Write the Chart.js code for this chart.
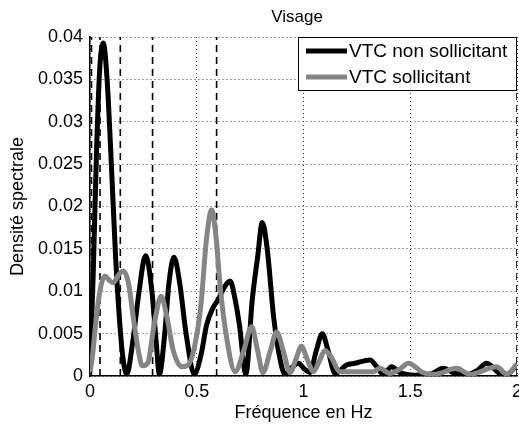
<!DOCTYPE html>
<html lang="fr">
    <head>
        <title>Visage</title>
        <meta charset="UTF-8">
        <script src="https://cdn.jsdelivr.net/npm/chart.js@4.4.0/dist/chart.umd.min.js"></script>
        <style>
            body { margin: 0; background: #fff; }
            #wrap { width: 519px; height: 425px; }
        </style>
    </head>
    <body>
        <div id="wrap">
            <canvas id="myChart" width="519" height="425"></canvas>
        </div>

    <script>
        // black curve : VTC non sollicitant
        const blackFreq = [0, 0.015, 0.03, 0.045, 0.062, 0.08, 0.1, 0.12, 0.14, 0.155,
            0.172, 0.2, 0.23, 0.26, 0.29, 0.31, 0.325, 0.35, 0.37, 0.393,
            0.42, 0.45, 0.489, 0.52, 0.546, 0.575, 0.6, 0.63, 0.656, 0.68,
            0.7, 0.73, 0.76, 0.785, 0.807, 0.83, 0.86, 0.89, 0.913, 0.945,
            0.976, 1.005, 1.03, 1.06, 1.088, 1.115, 1.148, 1.202, 1.241, 1.311,
            1.343, 1.372, 1.413, 1.452, 1.522, 1.593, 1.655, 1.71, 1.77, 1.811,
            1.858, 1.92, 1.953, 2.0];
        const blackDens = [0.001, 0.012, 0.026, 0.036, 0.0393, 0.035, 0.025, 0.014, 0.006, 0.002,
            0.0002, 0.004, 0.010, 0.0142, 0.010, 0.004, 0.0002, 0.005, 0.011, 0.014,
            0.011, 0.005, 0.0002, 0.0025, 0.006, 0.008, 0.009, 0.0105, 0.0112, 0.009,
            0.006, 0.0002, 0.009, 0.014, 0.0181, 0.015, 0.007, 0.002, 0.0002, 0.001,
            0.0015, 0.0008, 0.0004, 0.003, 0.005, 0.003, 0.0003, 0.0013, 0.0015, 0.0019,
            0.0011, 0.0002, 0.0011, 0.0004, 0.0001, 0.0002, 0.0009, 0.0003, 0.0002, 0.0006,
            0.0015, 0.0003, 0.0002, 0.0013];

        // gray curve : VTC sollicitant
        const grayFreq = [0, 0.01, 0.03, 0.05, 0.07, 0.09, 0.11, 0.13, 0.155, 0.18,
            0.205, 0.23, 0.245, 0.27, 0.3, 0.333, 0.36, 0.39, 0.43, 0.46,
            0.49, 0.52, 0.545, 0.57, 0.59, 0.61, 0.64, 0.68, 0.72, 0.757,
            0.785, 0.81, 0.845, 0.874, 0.905, 0.937, 0.965, 0.99, 1.02, 1.046,
            1.075, 1.1, 1.13, 1.171, 1.265, 1.326, 1.358, 1.405, 1.45, 1.491,
            1.56, 1.616, 1.717, 1.78, 1.905, 1.952, 2.0];
        const grayDens = [0.0005, 0.002, 0.007, 0.0105, 0.0118, 0.0113, 0.011, 0.0118, 0.0124, 0.011,
            0.0065, 0.0025, 0.0012, 0.0015, 0.006, 0.0094, 0.007, 0.003, 0.0011, 0.0013,
            0.0035, 0.0085, 0.016, 0.0196, 0.0165, 0.0105, 0.0045, 0.0005, 0.003, 0.0058,
            0.003, 0.0004, 0.003, 0.0052, 0.003, 0.0004, 0.002, 0.0035, 0.0018, 0.0005,
            0.0018, 0.003, 0.0022, 0.0005, 0.0005, 0.0005, 0.0009, 0.0003, 0.0008, 0.0015,
            0.0004, 0.0002, 0.0009, 0.0002, 0.0011, 0.0002, 0.0014];

        // dashed vertical markers (Hz)
        const markerFreqs = [0.007, 0.047, 0.142, 0.293, 0.593, 2.0];

        const seriesLabels = ['VTC non sollicitant', 'VTC sollicitant'];
        const xTicks = [0, 0.5, 1, 1.5, 2];
        const yRange = [0, 0.04];

        const FONT = "'Liberation Sans', Arial, sans-serif";
        const GRAY = '#858585';

        function toPoints(xs, ys){
            return xs.map((x, i) => ({x: x, y: ys[i]}));
        }

        const datasets = [];
        datasets.push({
            label: seriesLabels[1],
            data: toPoints(grayFreq, grayDens),
            borderColor: GRAY,
            borderWidth: 5,
            pointRadius: 0,
            cubicInterpolationMode: 'monotone',
            order: 0,
        });
        datasets.push({
            label: seriesLabels[0],
            data: toPoints(blackFreq, blackDens),
            borderColor: '#000',
            borderWidth: 5,
            pointRadius: 0,
            cubicInterpolationMode: 'monotone',
            order: 1,
        });
        markerFreqs.forEach(f => {
            datasets.push({
                label: '',
                data: [{x: f, y: yRange[0]}, {x: f, y: yRange[1]}],
                borderColor: '#000',
                borderWidth: 1.6,
                borderDash: [7, 5],
                pointRadius: 0,
                order: 2,
            });
        });

        // title + legend drawn like the matlab figure
        const matlabDeco = {
            id: 'matlabDeco',
            afterDraw(chart){
                const ctx = chart.ctx;
                const area = chart.chartArea;
                ctx.save();
                ctx.fillStyle = '#000';
                ctx.font = '17px ' + FONT;
                ctx.textAlign = 'center';
                ctx.textBaseline = 'middle';
                ctx.fillText('Visage', 297, 17);

                ctx.font = '19px ' + FONT;
                const w = 219, h = 54;
                const lx = area.right - w, ly = area.top;
                ctx.fillStyle = '#fff';
                ctx.fillRect(lx, ly, w, h);
                ctx.strokeStyle = '#000';
                ctx.lineWidth = 1;
                ctx.strokeRect(lx + 0.5, ly + 0.5, w - 1, h - 1);
                const items = [[seriesLabels[0], '#000'], [seriesLabels[1], GRAY]];
                items.forEach((it, i) => {
                    const yy = ly + 14 + i * 26;
                    ctx.strokeStyle = it[1];
                    ctx.lineWidth = 5;
                    ctx.beginPath();
                    ctx.moveTo(lx + 8, yy);
                    ctx.lineTo(lx + 49, yy);
                    ctx.stroke();
                    ctx.fillStyle = '#000';
                    ctx.textAlign = 'left';
                    ctx.fillText(it[0], lx + 51, yy + 1);
                });
                ctx.restore();
            }
        };

        const chart = new Chart(document.getElementById('myChart'), {
            type: 'line',
            data: { datasets: datasets },
            plugins: [matlabDeco],
            options: {
                responsive: false,
                animation: false,
                layout: { padding: { top: 37, right: 2, left: 0, bottom: 0 } },
                plugins: {
                    legend: { display: false },
                    title: { display: false },
                    tooltip: { enabled: false },
                },
                scales: {
                    x: {
                        type: 'linear',
                        min: xTicks[0],
                        max: xTicks[xTicks.length - 1],
                        afterFit: s => { s.height = 49; s.paddingRight = 0; s.paddingLeft = 0; },
                        afterBuildTicks: s => { s.ticks = xTicks.map(v => ({value: v})); },
                        grid: { color: '#444', lineWidth: 1, drawTicks: false },
                        border: { color: '#000', width: 1.5, dash: [1, 3] },
                        ticks: {
                            color: '#000',
                            padding: 5,
                            maxRotation: 0,
                            font: { family: FONT, size: 18 },
                            callback: v => String(v),
                        },
                        title: {
                            display: true,
                            text: 'Fréquence en Hz',
                            color: '#000',
                            font: { family: FONT, size: 18 },
                            padding: { top: 0, bottom: 1 },
                        },
                    },
                    y: {
                        min: yRange[0],
                        max: yRange[1],
                        afterFit: s => { s.width = 90; s.paddingTop = 0; s.paddingBottom = 0; },
                        grid: { color: '#444', lineWidth: 1, drawTicks: false },
                        border: { color: '#000', width: 1.5, dash: [1, 3] },
                        ticks: {
                            color: '#000',
                            stepSize: 0.005,
                            padding: 7,
                            font: { family: FONT, size: 18 },
                            callback: v => String(+v.toFixed(3)),
                        },
                        title: {
                            display: true,
                            text: 'Densité spectrale',
                            color: '#000',
                            font: { family: FONT, size: 18 },
                            padding: { top: 7, bottom: 0 },
                        },
                    },
                },
            },
        });
    </script>
    </body>
</html>
